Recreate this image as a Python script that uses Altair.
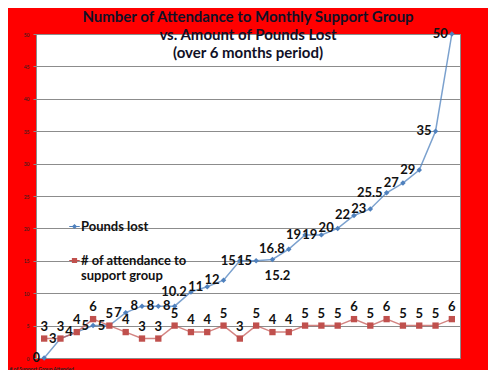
import altair as alt
import pandas as pd

session = list(range(1, 27))
pounds = [0, 3, 4, 5, 5, 7, 8, 8, 8, 10.2, 11, 12, 15, 15, 15.2, 16.8, 19, 19, 20,
          22, 23, 25.5, 27, 29, 35, 50]
attendance = [3, 3, 4, 6, 5, 4, 3, 3, 5, 4, 4, 5, 3, 5, 4, 4, 5, 5, 5, 6, 5, 6, 5,
              5, 5, 6]
series_names = ["Pounds lost", "# of attendance to support group"]
y_ticks = [0, 5, 10, 15, 20, 25, 30, 35, 40, 45, 50]
title_lines = ["Number of Attendance to  Monthly Support Group",
               "vs. Amount of Pounds Lost",
               "(over 6 months period)"]
x_title = "# of Support Group Attended"

rows = []
for s, p, a in zip(session, pounds, attendance):
    rows.append({"session": s, "series": series_names[0], "value": p,
                 "label": f"{p:g}"})
    rows.append({"session": s, "series": series_names[1], "value": a,
                 "label": f"{a:g}"})
df = pd.DataFrame(rows)

FONT = "Lato"
blue = "#4F81BD"
red = "#C0504D"

x_enc = alt.X("session:Q", scale=alt.Scale(domain=[0.5, 26.5], nice=False),
              axis=alt.Axis(labels=False, ticks=False, grid=False, title=x_title,
                            titleFontSize=5, titleFont=FONT, titleColor="#222",
                            titleAnchor="start", titleAlign="left",
                            titleX=-27, titleY=10, titleBaseline="middle",
                            domainColor="#8c8c8c"))
y_enc = alt.Y("value:Q", scale=alt.Scale(domain=[0, 50], nice=False),
              axis=alt.Axis(values=y_ticks, title=None, labelFontSize=5,
                            labelFont=FONT, labelColor="#222", gridColor="#8c8c8c",
                            domainColor="#8c8c8c", tickColor="#8c8c8c", tickSize=3,
                            labelPadding=4))
color_scale = alt.Scale(domain=series_names, range=[blue, red])

legend_shapes = [
    "M-1,-0.1L1,-0.1L1,0.1L-1,0.1Z M0,-0.5L0.5,0L0,0.5L-0.5,0Z",
    "M-1,-0.1L1,-0.1L1,0.1L-1,0.1Z M-0.5,-0.5L0.5,-0.5L0.5,0.5L-0.5,0.5Z",
]

legend = alt.Legend(
    title=None, orient="none", legendX=32, legendY=186, padding=0,
    labelFont=FONT, labelFontSize=13, labelFontWeight="bold", labelColor="#111",
    symbolSize=110, rowPadding=20, labelOffset=0, symbolOpacity=1,
    symbolStrokeWidth=0,
    labelExpr="datum.label == '# of attendance to support group' ? ['# of attendance to', 'support group'] : datum.label")

base = alt.Chart(df).encode(x=x_enc, y=y_enc)

is_blue = alt.datum.series == series_names[0]
is_red = alt.datum.series == series_names[1]

blue_line = base.transform_filter(is_blue).mark_line(
    strokeWidth=1.5, strokeOpacity=0.75, color=blue)
red_line = base.transform_filter(is_red).mark_line(
    strokeWidth=1.5, strokeOpacity=0.7, color=red)

blue_points = base.transform_filter(is_blue).mark_point(
    filled=True, opacity=1, shape="diamond", size=30, color=blue)
red_points = base.transform_filter(is_red).mark_point(
    filled=True, opacity=1, shape="square", size=40, color=red)

legend_layer = base.mark_point(filled=True, opacity=0).encode(
    color=alt.Color("series:N", scale=color_scale, legend=legend,
                    sort=series_names),
    shape=alt.Shape("series:N", scale=alt.Scale(domain=series_names,
                                                range=legend_shapes),
                    legend=legend, sort=series_names))

label_style = dict(font=FONT, fontSize=13, fontWeight="bold", color="#111")

blue_labels = base.transform_filter(
    is_blue & (alt.datum.value != 15.2)
).mark_text(align="right", baseline="middle", dx=-4, **label_style).encode(
    text="label:N")

blue_below = base.transform_filter(
    is_blue & (alt.datum.value == 15.2)
).mark_text(align="center", baseline="middle", dx=5, dy=16, **label_style).encode(
    text="label:N")

red_labels = base.transform_filter(is_red).mark_text(
    align="center", baseline="middle", dy=-12, **label_style).encode(
    text="label:N")

chart = alt.layer(blue_line, red_line, blue_points, red_points, legend_layer,
                  blue_labels, blue_below, red_labels).properties(
    width=424, height=324,
    padding={"left": 28, "top": 26, "right": 28, "bottom": 12},
    autosize=alt.AutoSizeParams(type="none"),
    background="#FF0000",
    title=alt.TitleParams(text=title_lines, font=FONT, fontSize=15,
                          fontWeight="bold", color="#111126", anchor="middle",
                          offset=-33, lineHeight=18),
).configure_view(fill="white", stroke="#8c8c8c")

chart.save("out.html", embed_options={"renderer": "svg", "actions": False})
